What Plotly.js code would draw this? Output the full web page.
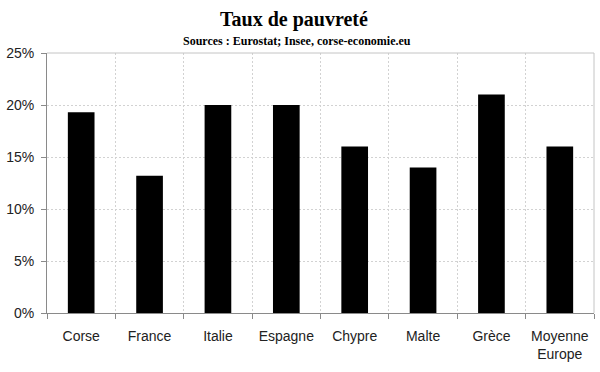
<!DOCTYPE html>
<html>
<head>
<meta charset="utf-8">
<script src="https://cdn.plot.ly/plotly-3.0.1.min.js"></script>
<style>html,body{margin:0;padding:0;background:#fff;}#chart{width:600px;height:372px;}</style>
</head>
<body>
<div id="chart"></div>
<script>
const categories = ["Corse", "France", "Italie", "Espagne", "Chypre", "Malte", "Grèce", "Moyenne<br>Europe"];
const values = [19.3, 13.2, 20, 20, 16, 14, 21, 16];
const yTicks = [0, 5, 10, 15, 20, 25];

const trace = {
  type: "bar",
  x: categories,
  y: values,
  marker: {color: "#000000", line: {width: 0}},
  hoverinfo: "skip"
};

const layout = {
  width: 600,
  height: 372,
  margin: {l: 47, r: 6, t: 53, b: 59},
  paper_bgcolor: "#ffffff",
  plot_bgcolor: "#ffffff",
  bargap: 0.61,
  showlegend: false,
  title: {
    text: "<b>Taux de pauvreté</b>",
    font: {family: "Liberation Serif", size: 20, color: "#000"},
    x: 0.49, xanchor: "center", y: 0.95, yanchor: "middle"
  },
  annotations: [{
    text: "<b>Sources : Eurostat; Insee, corse-economie.eu</b>",
    xref: "paper", yref: "paper",
    x: 0.457, y: 1.045, xanchor: "center", yanchor: "middle",
    showarrow: false,
    font: {family: "Liberation Serif", size: 12, color: "#000"}
  }],
  shapes: [
    {type: "line", xref: "paper", yref: "paper", x0: 0, x1: 1, y0: 1, y1: 1, line: {color: "#c4c4c4", width: 1}},
    {type: "line", xref: "paper", yref: "paper", x0: 1, x1: 1, y0: 0, y1: 1, line: {color: "#c4c4c4", width: 1}}
  ],
  xaxis: {
    type: "category",
    tickson: "boundaries",
    showgrid: true,
    gridcolor: "#d2d2d2",
    griddash: "2px,2px",
    gridwidth: 1,
    showline: true,
    linecolor: "#8a8a8a",
    linewidth: 1,
    ticks: "outside",
    ticklen: 5,
    tickcolor: "#8a8a8a",
    ticklabelstandoff: 10,
    tickfont: {family: "Liberation Sans", size: 14, color: "#222"},
    fixedrange: true
  },
  yaxis: {
    range: [0, 25],
    tickvals: yTicks,
    ticktext: yTicks.map(v => v + "%"),
    showgrid: true,
    gridcolor: "#d2d2d2",
    griddash: "2px,2px",
    gridwidth: 1,
    zeroline: false,
    showline: true,
    linecolor: "#8a8a8a",
    linewidth: 1,
    ticks: "outside",
    ticklen: 5,
    tickcolor: "#8a8a8a",
    ticklabelstandoff: 4,
    tickfont: {family: "Liberation Sans", size: 14, color: "#222"},
    fixedrange: true
  }
};

Plotly.newPlot("chart", [trace], layout, {displayModeBar: false, staticPlot: true});
</script>
</body>
</html>
